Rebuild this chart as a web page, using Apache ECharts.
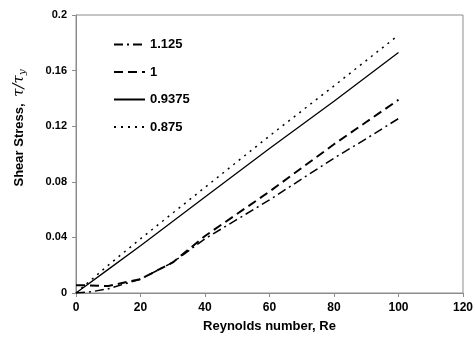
<!DOCTYPE html>
<html>
<head>
<meta charset="utf-8">
<script src="https://cdn.jsdelivr.net/npm/echarts@6/dist/echarts.min.js"></script>
<style>
  html, body { margin: 0; padding: 0; background: #fff; }
  #main { width: 476px; height: 338px; }
</style>
</head>
<body>
<div id="main"></div>
<script>
// Shear stress vs Reynolds number, four curves
const xTicks = [0, 20, 40, 60, 80, 100, 120];
const yTicks = [0, 0.04, 0.08, 0.12, 0.16, 0.2];

const names = ['1.125', '1', '0.9375', '0.875'];

const s1125 = [[0, 0], [5, 0.001], [10, 0.003], [20, 0.010], [30, 0.022], [40, 0.039],
    [50, 0.053], [60, 0.067], [70, 0.082], [80, 0.097], [90, 0.111], [100, 0.1255]];
const s1 = [[0, 0.0055], [4, 0.0055], [10, 0.005], [20, 0.010], [30, 0.022], [40, 0.041],
    [50, 0.057], [60, 0.073], [70, 0.090], [80, 0.107], [90, 0.123], [100, 0.139]];
const s09375 = [[0, 0], [10, 0.017], [20, 0.034], [40, 0.069], [60, 0.104], [80, 0.138], [100, 0.173]];
const s0875 = [[0, 0], [10, 0.020], [20, 0.039], [40, 0.076], [60, 0.113], [80, 0.149], [100, 0.1855]];

const chart = echarts.init(document.getElementById('main'));

const FONT = 'Liberation Sans, Arial, sans-serif';

const lineSeries = (name, data, width, type) => ({
    name: name,
    type: 'line',
    data: data,
    symbol: 'none',
    silent: true,
    lineStyle: { color: '#000', width: width, type: type },
    itemStyle: { color: '#000' }
});

chart.setOption({
    animation: false,
    backgroundColor: '#fff',
    grid: {
        left: 76, right: 11, top: 15, bottom: 43,
        show: true, borderColor: '#8c8c8c', borderWidth: 1
    },
    legend: {
        orient: 'vertical',
        left: 108, top: 33,
        itemWidth: 31, itemHeight: 14, itemGap: 14.5,
        itemStyle: { opacity: 0 },
        data: names,
        textStyle: { fontFamily: FONT, fontWeight: 'bold', fontSize: 13, color: '#000' }
    },
    xAxis: {
        type: 'value',
        min: 0, max: 120, interval: 20,
        name: 'Reynolds number, Re',
        nameLocation: 'middle',
        nameGap: 27,
        nameTextStyle: { fontFamily: FONT, fontWeight: 'bold', fontSize: 13, color: '#000' },
        axisLine: { lineStyle: { color: '#8c8c8c' } },
        axisTick: { show: true, length: 4, lineStyle: { color: '#8c8c8c' } },
        axisLabel: {
            margin: 9, fontFamily: FONT, fontWeight: 'bold', fontSize: 12, color: '#000',
            formatter: v => xTicks.includes(v) ? String(v) : ''
        },
        splitLine: { show: false }
    },
    yAxis: {
        type: 'value',
        min: 0, max: 0.2, interval: 0.04,
        axisLine: { show: true, lineStyle: { color: '#8c8c8c' } },
        axisTick: { show: true, length: 4, lineStyle: { color: '#8c8c8c' } },
        axisLabel: {
            margin: 9, fontFamily: FONT, fontWeight: 'bold', fontSize: 11, color: '#000',
            formatter: v => {
                const t = yTicks.find(k => Math.abs(k - v) < 1e-9);
                return t === undefined ? '' : String(t);
            }
        },
        splitLine: { show: false }
    },
    graphic: [{
        type: 'text',
        x: 19, y: 128,
        rotation: Math.PI / 2,
        style: {
            text: '{a|Shear Stress,}  {b|τ/τ}{c|y}',
            align: 'center',
            verticalAlign: 'middle',
            rich: {
                a: { fontFamily: FONT, fontWeight: 'bold', fontSize: 13, fill: '#000' },
                b: { fontFamily: 'DejaVu Serif, serif', fontStyle: 'italic', fontSize: 15, fill: '#000' },
                c: { fontFamily: 'DejaVu Serif, serif', fontStyle: 'italic', fontSize: 10, fill: '#000', padding: [6, 0, 0, 0] }
            }
        }
    }],
    series: [
        lineSeries(names[0], s1125, 1.5, [9, 4, 2, 4]),
        lineSeries(names[1], s1, 2, [9, 5]),
        lineSeries(names[2], s09375, 1.3, 'solid'),
        lineSeries(names[3], s0875, 1.5, [2, 5])
    ]
});
</script>
</body>
</html>
